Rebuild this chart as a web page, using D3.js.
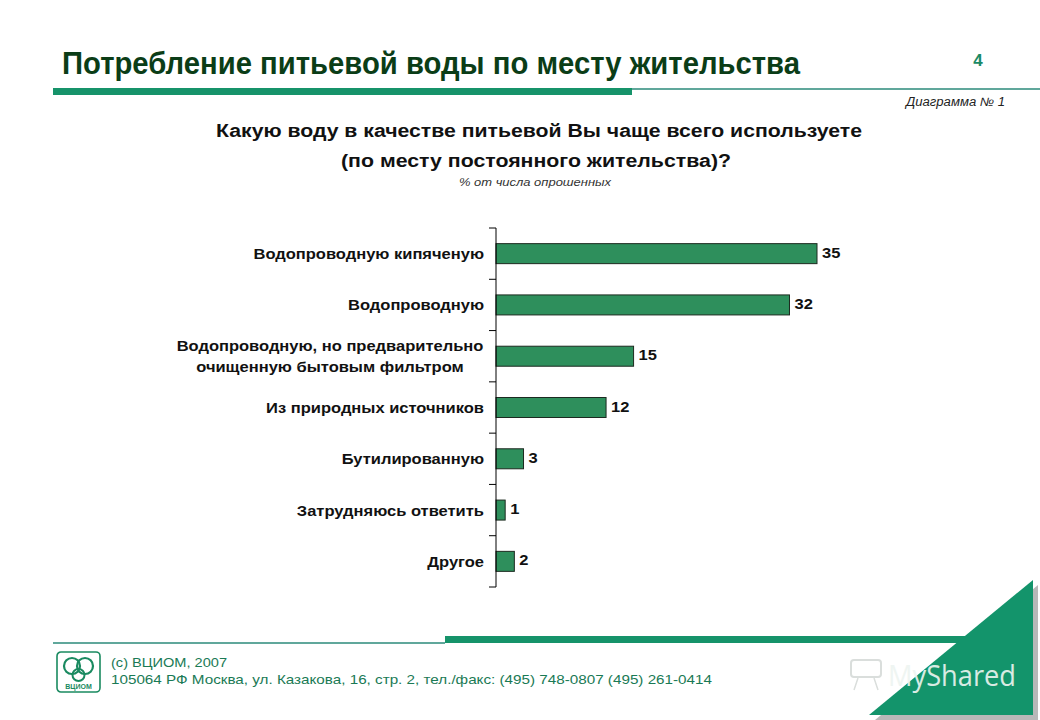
<!DOCTYPE html>
<html><head><meta charset="utf-8">
<script src="https://cdn.jsdelivr.net/npm/d3@7/dist/d3.min.js"></script>
<style>body{margin:0;background:#fff}svg{display:block}</style>
</head><body>
<svg id="c" width="1040" height="720"></svg>
<script>
const categories = [
  ["Водопроводную кипяченую"],
  ["Водопроводную"],
  ["Водопроводную, но предварительно", "очищенную бытовым фильтром"],
  ["Из природных источников"],
  ["Бутилированную"],
  ["Затрудняюсь ответить"],
  ["Другое"]
];
const values = [35, 32, 15, 12, 3, 1, 2];
const keys = categories.map((d,i)=>"c"+i);

const svg = d3.select("#c");
const sans = "'Liberation Sans',Arial,sans-serif";

function fitW(sel, w){ sel.attr("textLength", w).attr("lengthAdjust","spacingAndGlyphs"); return sel; }
function stretch(sel, k){ sel.each(function(){ const w=this.getComputedTextLength(); d3.select(this).attr("textLength", w*k).attr("lengthAdjust","spacingAndGlyphs"); }); return sel; }

// Header
fitW(svg.append("text").attr("x",62).attr("y",74).attr("font-family",sans).attr("font-weight","bold")
  .attr("font-size",31).attr("fill","#0b3d17").text("Потребление питьевой воды по месту жительства"), 738);
svg.append("text").attr("x",978).attr("y",66).attr("font-family",sans).attr("font-weight","bold")
  .attr("font-size",17).attr("fill","#1a8a66").attr("text-anchor","middle").text("4");
svg.append("rect").attr("x",53).attr("y",88).attr("width",579).attr("height",7).attr("fill","#16936a");
svg.append("line").attr("x1",632).attr("x2",1040).attr("y1",89).attr("y2",89).attr("stroke","#2b8a7a").attr("stroke-width",1.3);
fitW(svg.append("text").attr("x",906).attr("y",106).attr("font-family",sans).attr("font-style","italic")
  .attr("font-size",12).attr("fill","#222").text("Диаграмма  № 1"), 99);

// Question
fitW(svg.append("text").attr("x",216).attr("y",137).attr("font-family",sans).attr("font-weight","bold")
  .attr("font-size",17.5).attr("fill","#111").text("Какую воду в качестве питьевой Вы чаще всего используете"), 646);
fitW(svg.append("text").attr("x",341).attr("y",167).attr("font-family",sans).attr("font-weight","bold")
  .attr("font-size",17.5).attr("fill","#111").text("(по месту постоянного жительства)?"), 390);
fitW(svg.append("text").attr("x",459).attr("y",186).attr("font-family",sans).attr("font-style","italic")
  .attr("font-size",11).attr("fill","#333").text("% от числа опрошенных"), 152);

// Chart
const x0 = 496, yTop = 228, yBot = 587;
const x = d3.scaleLinear().domain([0,35]).range([x0, 817]);
const y = d3.scaleBand().domain(keys).range([yTop, yBot]).paddingInner(0.61).paddingOuter(0.305);

const g = svg.append("g");
g.selectAll("rect.bar").data(values).join("rect").attr("class","bar")
  .attr("x", x(0)).attr("y",(d,i)=>y(keys[i])).attr("width",d=>x(d)-x(0)).attr("height",y.bandwidth())
  .attr("fill","#2e8f5c").attr("stroke","#1c2a20").attr("stroke-width",1);

stretch(g.selectAll("text.val").data(values).join("text").attr("class","val")
  .attr("x",d=>x(d)+5).attr("y",(d,i)=>y(keys[i])+y.bandwidth()/2+4)
  .attr("font-family",sans).attr("font-weight","bold").attr("font-size",15).attr("fill","#111")
  .text(d=>d), 1.1);

// Axis with ticks at category boundaries
const axisG = svg.append("g");
axisG.append("line").attr("x1",x0).attr("x2",x0).attr("y1",yTop).attr("y2",yBot).attr("stroke","#000");
const bounds = d3.range(keys.length+1).map(i=>yTop + i*(yBot-yTop)/keys.length);
axisG.selectAll("line.t").data(bounds).join("line").attr("class","t")
  .attr("x1",x0-7).attr("x2",x0).attr("y1",d=>d).attr("y2",d=>d).attr("stroke","#000");

// Category labels
categories.forEach((lines,i)=>{
  const cy = y(keys[i]) + y.bandwidth()/2;
  const n = lines.length;
  lines.forEach((t,j)=>{
    const el = svg.append("text")
      .attr("x", n>1 ? 330 : 484)
      .attr("y", cy + (j-(n-1)/2)*21 + 5.5)
      .attr("text-anchor", n>1 ? "middle" : "end")
      .attr("font-family",sans).attr("font-weight","bold").attr("font-size",15).attr("fill","#111")
      .text(t);
    stretch(el, 1.1);
  });
});

// Footer
svg.append("line").attr("x1",53).attr("x2",445).attr("y1",643).attr("y2",643).attr("stroke","#2b8a7a").attr("stroke-width",1.3);
svg.append("rect").attr("x",445).attr("y",636).attr("width",560).attr("height",7).attr("fill","#16936a");
svg.append("path").attr("d","M1038,585 L1038,720 L875,720 Z").attr("fill","#b8b8b8");
svg.append("path").attr("d","M1033,580 L1033,715 L869,715 Z").attr("fill","#13946b");
// watermark
const wm = svg.append("g");
wm.append("rect").attr("x",851).attr("y",660).attr("width",30).attr("height",17).attr("rx",3).attr("fill","none").attr("stroke","#dadedc").attr("stroke-width",2);
wm.append("line").attr("x1",858).attr("x2",854).attr("y1",678).attr("y2",690).attr("stroke","#dadedc").attr("stroke-width",1.5);
wm.append("line").attr("x1",874).attr("x2",878).attr("y1",678).attr("y2",690).attr("stroke","#dadedc").attr("stroke-width",1.5);
fitW(wm.append("text").attr("x",888).attr("y",686).attr("font-family","'Open Sans',sans-serif").attr("font-size",29)
  .attr("fill","#eef5f1").attr("opacity",0.9).text("MyShared"), 128);

// logo
const lg = svg.append("g").attr("transform","translate(57,652)");
lg.append("rect").attr("x",0).attr("y",0).attr("width",43).attr("height",40).attr("rx",4).attr("fill","none").attr("stroke","#1a8a60").attr("stroke-width",1.6);
lg.append("circle").attr("cx",15).attr("cy",14).attr("r",8).attr("fill","none").attr("stroke","#1a8a60").attr("stroke-width",2.2);
lg.append("circle").attr("cx",28).attr("cy",14).attr("r",8).attr("fill","none").attr("stroke","#1a8a60").attr("stroke-width",2.2);
lg.append("circle").attr("cx",21.5).attr("cy",23).attr("r",6).attr("fill","none").attr("stroke","#1a8a60").attr("stroke-width",2);
lg.append("text").attr("x",21.5).attr("y",37).attr("text-anchor","middle").attr("font-family",sans).attr("font-weight","bold")
  .attr("font-size",7).attr("fill","#1a8a60").text("ВЦИОМ");

fitW(svg.append("text").attr("x",111).attr("y",667).attr("font-family",sans).attr("font-size",13).attr("fill","#1a7a55").text("(с) ВЦИОМ, 2007"), 116);
fitW(svg.append("text").attr("x",111).attr("y",684).attr("font-family",sans).attr("font-size",13).attr("fill","#1a7a55")
  .text("105064  РФ Москва, ул. Казакова, 16, стр. 2, тел./факс: (495) 748-0807  (495) 261-0414"), 601);
</script>
</body></html>
